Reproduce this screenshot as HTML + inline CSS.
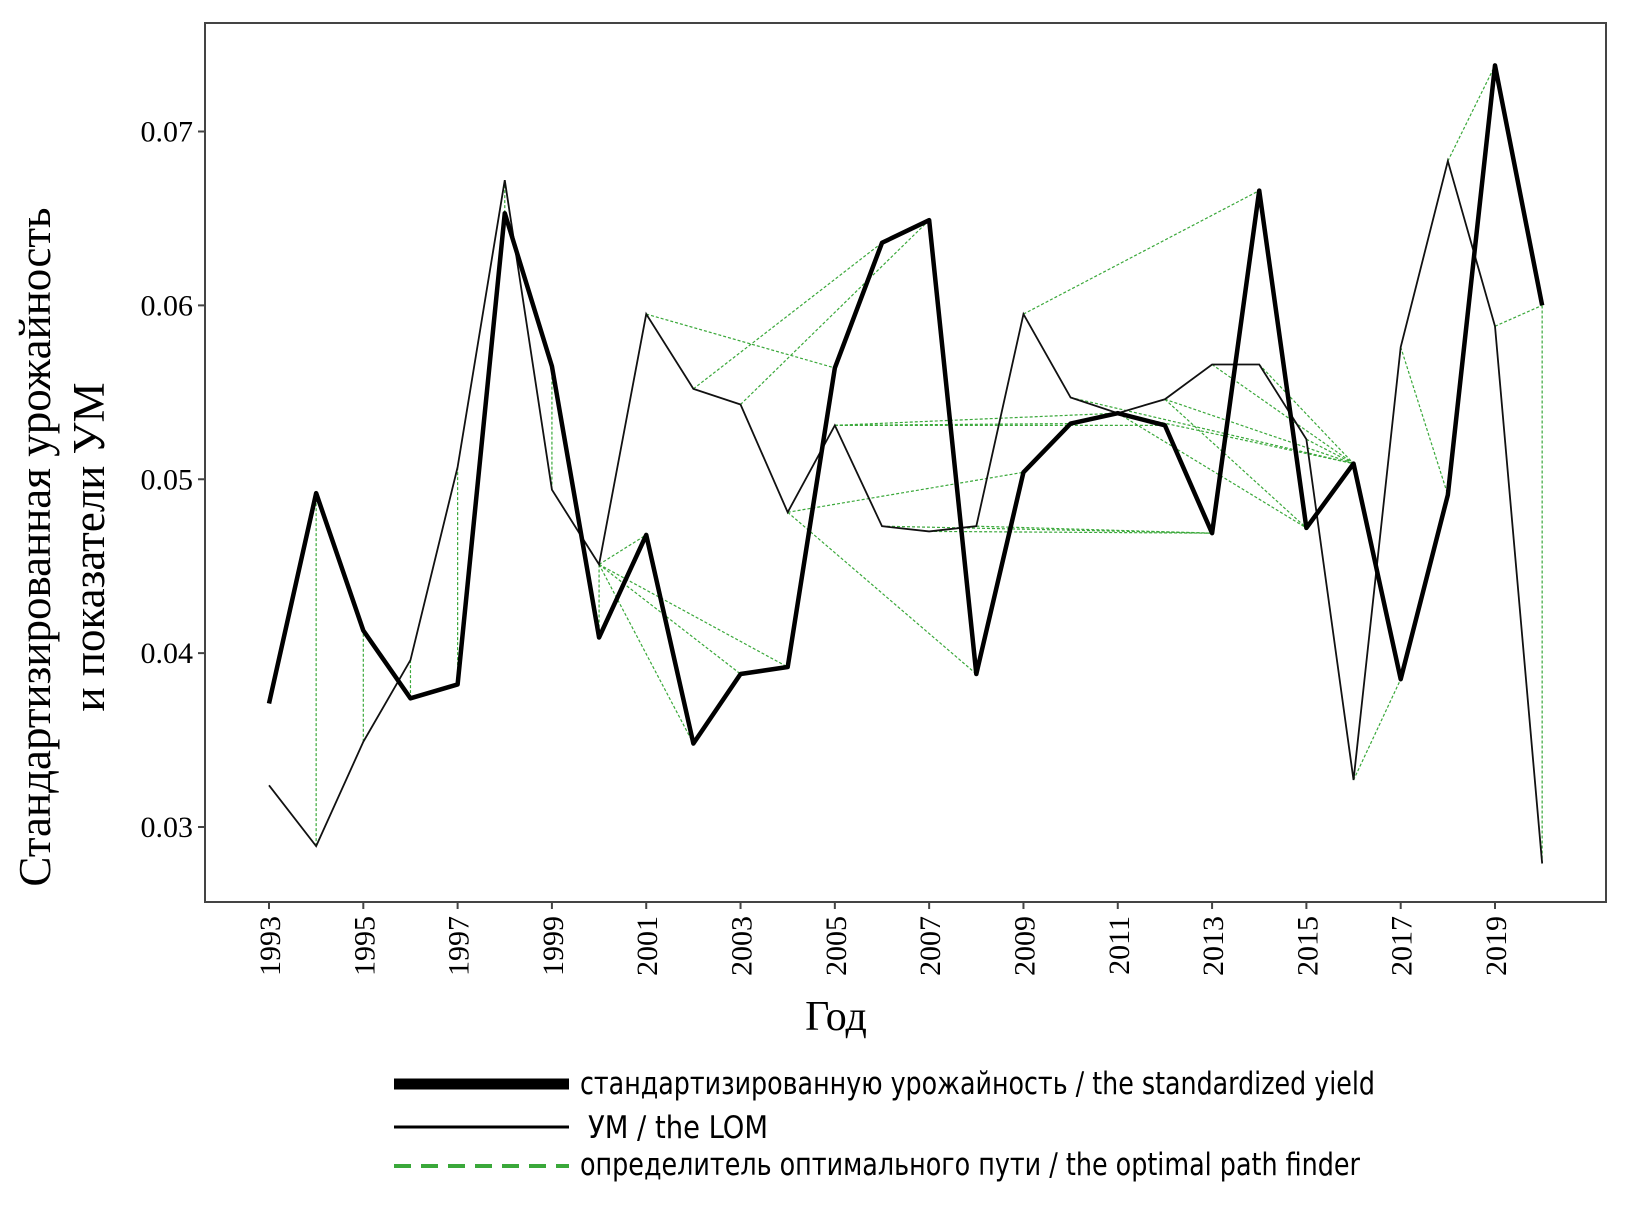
<!DOCTYPE html>
<html><head><meta charset="utf-8"><style>body{margin:0;background:#fff}svg{display:block}</style></head>
<body>
<svg id="chart" width="1649" height="1205" xmlns="http://www.w3.org/2000/svg">
<rect x="0" y="0" width="1649" height="1205" fill="#fff"/>
<g id="plot"></g>
<text x="0" y="0" transform="translate(50,547) rotate(-90)" text-anchor="middle" font-family="Liberation Serif, serif" font-size="45" fill="#000">Стандартизированная урожайность</text>
<text x="0" y="0" transform="translate(104,547) rotate(-90)" text-anchor="middle" font-family="Liberation Serif, serif" font-size="45" fill="#000">и показатели  УМ</text>
<text x="836" y="1030" text-anchor="middle" font-family="Liberation Serif, serif" font-size="42" fill="#000">Год</text>
<g font-family="'DejaVu Sans Condensed','Liberation Sans Narrow',sans-serif" font-size="31" fill="#000">
 <line x1="394" y1="1084" x2="569" y2="1084" stroke="#000" stroke-width="11"/>
 <text x="580" y="1094" textLength="795" lengthAdjust="spacingAndGlyphs">стандартизированную урожайность / the standardized yield</text>
 <line x1="394" y1="1127" x2="569" y2="1127" stroke="#000" stroke-width="3"/>
 <text x="588" y="1138" textLength="180" lengthAdjust="spacingAndGlyphs">УМ / the LOM</text>
 <line x1="394" y1="1166" x2="569" y2="1166" stroke="#3aa83a" stroke-width="4" stroke-dasharray="17,10"/>
 <text x="580" y="1175" textLength="780" lengthAdjust="spacingAndGlyphs">определитель оптимального пути / the optimal path finder</text>
</g>
</svg>
<script>
const years=[1993,1994,1995,1996,1997,1998,1999,2000,2001,2002,2003,2004,2005,2006,2007,2008,2009,2010,2011,2012,2013,2014,2015,2016,2017,2018,2019,2020];
const yieldVals=[0.0371,0.0492,0.0413,0.0374,0.0382,0.0653,0.0565,0.0409,0.0468,0.0348,0.0388,0.0392,0.0564,0.0636,0.0649,0.0388,0.0504,0.0532,0.0538,0.0531,0.0469,0.0666,0.0472,0.0509,0.0385,0.0491,0.0738,0.0600];
const lomVals=[0.0324,0.0289,0.0349,0.0396,0.0507,0.0672,0.0494,0.0451,0.0595,0.0552,0.0543,0.0481,0.0531,0.0473,0.0470,0.0473,0.0595,0.0547,0.0538,0.0546,0.0566,0.0566,0.0523,0.0327,0.0576,0.0683,0.0588,0.0279];
const yTicks=[0.03,0.04,0.05,0.06,0.07];
const xTickYears=[1993,1995,1997,1999,2001,2003,2005,2007,2009,2011,2013,2015,2017,2019];
// optimal path links: [LOM year, yield year]
const pathLinks=[[1994,1994],[1995,1995],[1996,1996],[1997,1997],[1998,1998],[1999,1999],[2000,2000],[2000,2001],[2000,2002],[2000,2003],[2000,2004],[2001,2005],[2002,2006],[2003,2007],[2004,2008],[2004,2009],[2005,2010],[2005,2011],[2005,2012],[2006,2013],[2007,2013],[2008,2013],[2009,2014],[2010,2016],[2011,2015],[2012,2015],[2011,2016],[2012,2016],[2013,2016],[2014,2016],[2015,2016],[2016,2017],[2017,2018],[2018,2019],[2019,2020],[2020,2020]];

const NS='http://www.w3.org/2000/svg';
const L=205,R=1606,T=23,B=902;
const xs=y=>269+(y-1993)*(1495-269)/26;
const ys=v=>131.5+(0.07-v)*(827-131.5)/0.04;
const g=document.getElementById('plot');
function mk(tag,attrs){const e=document.createElementNS(NS,tag);for(const k in attrs)e.setAttribute(k,attrs[k]);g.appendChild(e);return e;}
const frame=mk('rect',{x:L,y:T,width:R-L,height:B-T,fill:'none',stroke:'#444','stroke-width':2});


yTicks.forEach(t=>{
 const ln=mk('line',{x1:L-7,x2:L,y1:ys(t),y2:ys(t),stroke:'#444','stroke-width':2});
 
 
 const tx=mk('text',{x:L-12,y:ys(t)+10,'text-anchor':'end','font-family':'Liberation Serif, serif','font-size':30,fill:'#000'});
 tx.textContent=t.toFixed(2);
 
 
});
xTickYears.forEach(yr=>{
 const ln=mk('line',{x1:xs(yr),x2:xs(yr),y1:B,y2:B+7,stroke:'#444','stroke-width':2});
 
 
 const tx=mk('text',{x:0,y:0,transform:`translate(${xs(yr)+11},${B+14}) rotate(-90)`,'text-anchor':'end','font-family':'Liberation Serif, serif','font-size':30,fill:'#000'});
 tx.textContent=yr;
 
 
});
pathLinks.forEach(p=>{
 const a=years.indexOf(p[0]),b=years.indexOf(p[1]);
 const ln=mk('line',{x1:xs(p[0]),y1:ys(lomVals[a]),x2:xs(p[1]),y2:ys(yieldVals[b]),stroke:'#3aa83a','stroke-width':1.2,'stroke-dasharray':'3,2'});
 
 
});
const lom=mk('polyline',{points:years.map((y,i)=>xs(y)+','+ys(lomVals[i])).join(' '),fill:'none',stroke:'#111','stroke-width':1.8});


const yl=mk('polyline',{points:years.map((y,i)=>xs(y)+','+ys(yieldVals[i])).join(' '),fill:'none',stroke:'#000','stroke-width':4.5,'stroke-linejoin':'round'});


</script>
</body></html>
